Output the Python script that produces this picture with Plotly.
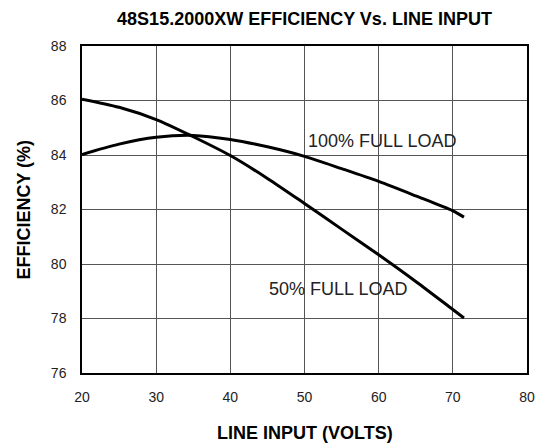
import plotly.graph_objects as go

line_input = [20, 25, 30, 35, 40, 45, 50, 55, 60, 65, 70, 71.5]
eff_50 = [86.05, 85.75, 85.30, 84.67, 83.98, 83.14, 82.22, 81.28, 80.34, 79.36, 78.33, 78.02]
eff_100 = [84.02, 84.4, 84.65, 84.72, 84.57, 84.3, 83.95, 83.5, 83.03, 82.5, 81.95, 81.72]

x_ticks = [20, 30, 40, 50, 60, 70, 80]
y_ticks = [76, 78, 80, 82, 84, 86, 88]

FONT = "Liberation Sans, Arial, Helvetica, sans-serif"
W, H = 543, 445
ML, MR, MT, MB = 82, 8, 46, 72

fig = go.Figure()
fig.add_trace(go.Scatter(x=line_input, y=eff_50, mode="lines", name="50% FULL LOAD",
                         line=dict(color="black", width=3, shape="spline", smoothing=0.8)))
fig.add_trace(go.Scatter(x=line_input, y=eff_100, mode="lines", name="100% FULL LOAD",
                         line=dict(color="black", width=3, shape="spline", smoothing=0.8)))

fig.add_annotation(x=50.2, y=84.5, xref="x", yref="y", text="100% FULL LOAD",
                   showarrow=False, xanchor="left", yanchor="middle",
                   font=dict(family=FONT, size=18, color="#222"))
fig.add_annotation(x=44.9, y=79.07, xref="x", yref="y", text="50% FULL LOAD",
                   showarrow=False, xanchor="left", yanchor="middle",
                   font=dict(family=FONT, size=18, color="#222"))

plot_h = H - MT - MB
plot_w = W - ML - MR
fig.add_annotation(x=0.5, y=(H - MB - 433) / plot_h, xref="paper", yref="paper",
                   text="<b>LINE INPUT (VOLTS)</b>", showarrow=False,
                   xanchor="center", yanchor="middle",
                   font=dict(family=FONT, size=18, color="black"))
fig.add_annotation(x=(22 - ML) / plot_w, y=0.5, xref="paper", yref="paper",
                   text="<b>EFFICIENCY (%)</b>", textangle=-90, showarrow=False,
                   xanchor="center", yanchor="middle",
                   font=dict(family=FONT, size=18, color="black"))

fig.update_layout(
    width=W, height=H,
    margin=dict(l=ML, r=MR, t=MT, b=MB, pad=0),
    paper_bgcolor="white", plot_bgcolor="white",
    showlegend=False,
    font=dict(family=FONT, size=14, color="#222"),
    title=dict(text="<b>48S15.2000XW EFFICIENCY Vs. LINE INPUT</b>",
               x=0.5, xref="paper", y=1 - 19 / H, yref="container",
               xanchor="center", yanchor="middle",
               font=dict(family=FONT, size=18, color="black")),
    xaxis=dict(range=[20, 80], tickvals=x_ticks, ticktext=[str(v) for v in x_ticks],
               showgrid=True, gridcolor="#555", gridwidth=1,
               showline=True, linecolor="black", linewidth=1.5, mirror=True,
               ticks="", ticklabelstandoff=10, zeroline=False,
               tickfont=dict(family=FONT, size=14, color="#222")),
    yaxis=dict(range=[76, 88], tickvals=y_ticks, ticktext=[str(v) for v in y_ticks],
               showgrid=True, gridcolor="#555", gridwidth=1,
               showline=True, linecolor="black", linewidth=1.5, mirror=True,
               ticks="", ticklabelstandoff=11, zeroline=False,
               tickfont=dict(family=FONT, size=14, color="#222")),
)

fig.write_html("out.html", config={"displayModeBar": False},
               post_script="document.body.style.margin='0';")
